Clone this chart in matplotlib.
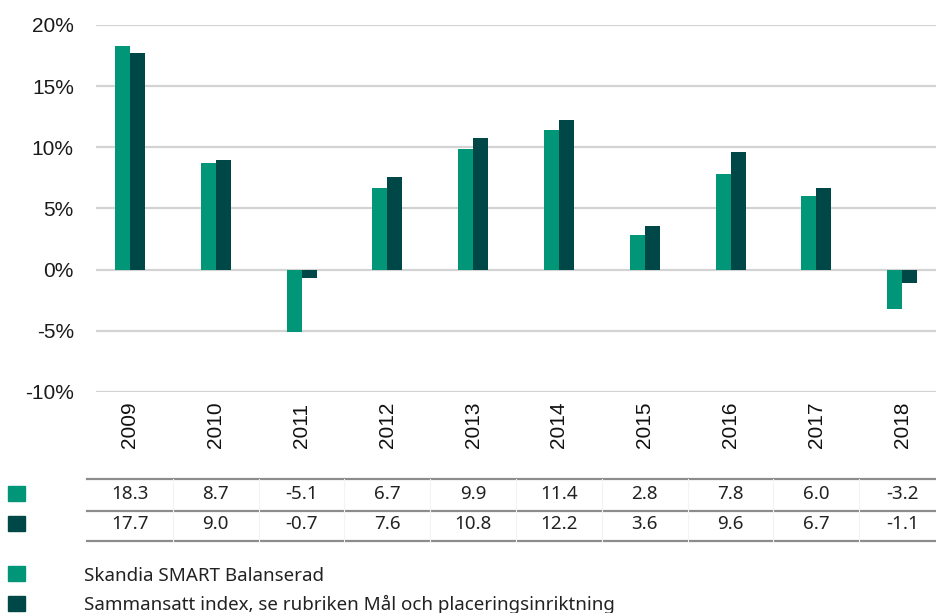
import numpy as np
import matplotlib.pyplot as plt
import matplotlib.transforms as mtransforms
from matplotlib.patches import Rectangle

# data
years = ['2009', '2010', '2011', '2012', '2013', '2014', '2015', '2016', '2017', '2018']
fund = [18.3, 8.7, -5.1, 6.7, 9.9, 11.4, 2.8, 7.8, 6.0, -3.2]
index = [17.7, 9.0, -0.7, 7.6, 10.8, 12.2, 3.6, 9.6, 6.7, -1.1]
series_names = ['Skandia SMART Balanserad',
                'Sammansatt index, se rubriken Mål och placeringsinriktning']
yticks = [-10, -5, 0, 5, 10, 15, 20]

c_fund = '#009677'
c_index = '#004847'

W, H = 937, 613
fig = plt.figure(figsize=(W / 100, H / 100), dpi=100)

# bar axes (pixel layout: left 96, top 25, bottom 392)
step = 85.8
c0 = 130
ax = fig.add_axes([96 / W, 1 - 392 / H, (W - 96) / W, (392 - 25) / H])
ax.set_xlim((96 - c0) / step, (W - c0) / step)
ax.set_ylim(-10, 20)

x = np.arange(len(years))
bw = 0.175
ax.bar(x - bw / 2, fund, width=bw, color=c_fund, zorder=3)
ax.bar(x + bw / 2, index, width=bw, color=c_index, zorder=3)

ax.set_yticks(yticks)
ax.set_yticklabels([f'{t}%' for t in yticks], fontsize=15, family='Liberation Sans', color='#1a1a1a')
ax.yaxis.grid(True, color='#d3d3d3', linewidth=1.6, zorder=0)
ax.tick_params(axis='y', length=0, pad=16)
ax.set_xticks([])
for s in ax.spines.values():
    s.set_visible(False)

# overlay axes in pixel coordinates
ov = fig.add_axes([0, 0, 1, 1], facecolor='none')
ov.set_xlim(0, W)
ov.set_ylim(H, 0)
ov.axis('off')
blend = mtransforms.blended_transform_factory(ax.transData, ov.transData)

# year labels
for i, yr in enumerate(years):
    ov.text(i, 425, yr, transform=blend, rotation=90, ha='center', va='center',
            fontsize=15, family='Liberation Sans', color='#111111')

# table
tfont = dict(fontsize=13.5, family='Noto Sans', color='#222222')
xl = -0.5
xr = (W - c0) / step
for yy in [479, 511, 541]:
    ov.plot([xl, xr], [yy, yy], transform=blend, color='#8c8c8c', lw=1.6, clip_on=False)
for i in range(1, len(years)):
    ov.plot([i - 0.5, i - 0.5], [479, 541], transform=blend, color='#f3f3f3', lw=0.8)
for i in range(len(years)):
    ov.text(i, 494, f'{fund[i]:.1f}', transform=blend, ha='center', va='center', **tfont)
    ov.text(i, 524, f'{index[i]:.1f}', transform=blend, ha='center', va='center', **tfont)

# table row markers
ov.add_patch(Rectangle((8, 486), 17, 15, color=c_fund))
ov.add_patch(Rectangle((8, 516), 17, 15, color=c_index))

# legend
ov.add_patch(Rectangle((8, 566), 17, 15, color=c_fund))
ov.add_patch(Rectangle((8, 596), 17, 15, color=c_index))
ov.text(84, 576, series_names[0], ha='left', va='center', **tfont)
ov.text(84, 604, series_names[1], ha='left', va='center', **tfont)

plt.savefig('out.png', dpi=100)
